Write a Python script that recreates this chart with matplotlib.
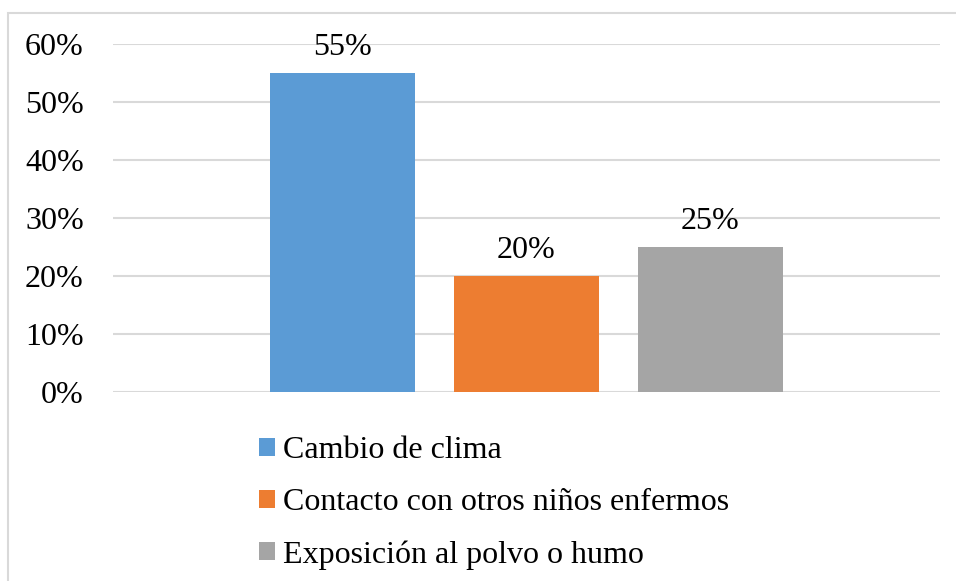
import matplotlib.pyplot as plt
from matplotlib.patches import Patch, Rectangle
from matplotlib.ticker import FuncFormatter

# datos del gráfico
categorias = ['Cambio de clima', 'Contacto con otros niños enfermos', 'Exposición al polvo o humo']
porcentajes = [55, 20, 25]
colores = ['#5B9BD5', '#ED7D31', '#A5A5A5']
ticks_y = [0, 10, 20, 30, 40, 50, 60]

plt.rcParams['font.family'] = ['Liberation Serif', 'DejaVu Serif']
fs = 23

W, H = 956, 581
fig = plt.figure(figsize=(W / 100, H / 100), dpi=100)

# marco gris del gráfico (se sale por la derecha y por abajo)
fig.patches.append(Rectangle((8 / W, -0.5), 1.5, 1.5 - 12.5 / H, transform=fig.transFigure,
                             fill=False, edgecolor='#D9D9D9', linewidth=1.5))

ax = fig.add_axes([113 / W, 1 - 392 / H, (940 - 113) / W, (392 - 44) / H])

pos = [-1, 0, 1]
ancho = 145 / 184
barras = ax.bar(pos, porcentajes, width=ancho, color=colores, zorder=3)
ax.bar_label(barras, labels=[f'{v}%' for v in porcentajes], padding=8, fontsize=fs)

ax.set_xlim(-827 / 184 / 2, 827 / 184 / 2)
ax.set_ylim(0, 60)
ax.set_yticks(ticks_y)
ax.yaxis.set_major_formatter(FuncFormatter(lambda v, p: f'{v:.0f}%'))
ax.tick_params(axis='y', length=0, labelsize=fs, pad=21)
ax.set_xticks([])
ax.grid(axis='y', color='#D9D9D9', linewidth=1.5, zorder=0)
for s in ax.spines.values():
    s.set_visible(False)

# leyenda debajo del gráfico
handles = [Patch(facecolor=c, edgecolor='none') for c in colores]
fig.legend(handles, categorias, loc='upper left', bbox_to_anchor=(259 / W, 1 - 436 / H),
           frameon=False, fontsize=fs, handlelength=0.5, handleheight=0.5,
           handletextpad=0.25, labelspacing=0.72, borderaxespad=0, borderpad=0)

fig.savefig('out.png', dpi=100)
